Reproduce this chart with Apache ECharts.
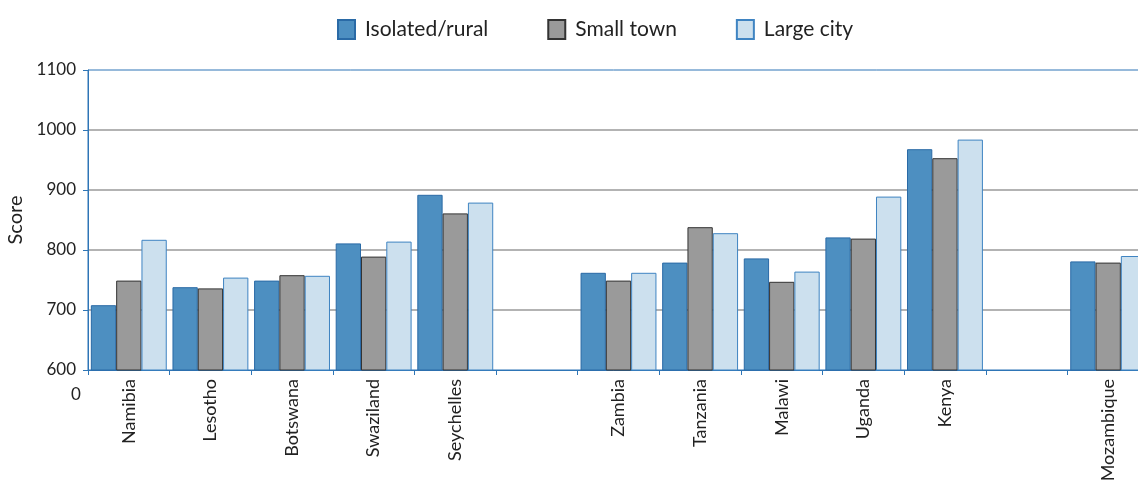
<!DOCTYPE html>
<html>
<head>
<meta charset="utf-8">
<script src="https://cdn.jsdelivr.net/npm/echarts@6/dist/echarts.min.js"></script>
<style>
  html, body { margin: 0; padding: 0; background: #fff; }
  #main { width: 1138px; height: 489px; }
</style>
</head>
<body>
<div id="main"></div>
<script>
// 国家（空字符串是分组之间的空位）
var countries = ['Namibia', 'Lesotho', 'Botswana', 'Swaziland', 'Seychelles', '',
    'Zambia', 'Tanzania', 'Malawi', 'Uganda', 'Kenya', '', 'Mozambique'];

// 三类地区的分数
var isolatedRural = [708, 738, 749, 811, 892, '-', 762, 779, 786, 821, 968, '-', 781];
var smallTown = [749, 736, 758, 789, 861, '-', 749, 838, 747, 819, 953, '-', 779];
var largeCity = [817, 754, 757, 814, 879, '-', 762, 828, 764, 889, 984, '-', 790];

var yTicks = [600, 700, 800, 900, 1000, 1100];

var fontName = 'Lato';
var axisBlue = '#2e75b6';

var chart = echarts.init(document.getElementById('main'));

var option = {
    animation: false,
    textStyle: { fontFamily: fontName },
    legend: {
        top: 14,
        left: 332,
        icon: 'rect',
        itemWidth: 17,
        itemHeight: 19,
        itemGap: 59,
        textStyle: {
            fontFamily: fontName,
            fontSize: 21,
            color: '#222',
            padding: [0, 0, 0, 5]
        },
        data: ['Isolated/rural', 'Small town', 'Large city']
    },
    grid: {
        left: 88,
        top: 70,
        bottom: 119,
        width: 1061,
        outerBoundsMode: 'none',
        containLabel: false,
        show: true,
        borderColor: axisBlue,
        borderWidth: 1
    },
    xAxis: {
        type: 'category',
        data: countries,
        axisLine: { lineStyle: { color: axisBlue, width: 1 } },
        axisTick: {
            show: true,
            alignWithLabel: false,
            length: 5,
            lineStyle: { color: axisBlue }
        },
        axisLabel: {
            rotate: 90,
            interval: 0,
            margin: 9,
            fontSize: 18,
            color: '#222',
            fontFamily: fontName
        }
    },
    yAxis: {
        type: 'value',
        min: yTicks[0],
        max: yTicks[yTicks.length - 1],
        interval: 100,
        name: 'Score',
        nameLocation: 'middle',
        nameGap: 60,
        nameTextStyle: { fontSize: 20, color: '#222', fontFamily: fontName },
        axisLine: { show: true, lineStyle: { color: axisBlue, width: 1 } },
        axisTick: { show: true, length: 5, lineStyle: { color: axisBlue } },
        axisLabel: {
            margin: 12,
            fontSize: 17,
            color: '#222',
            fontFamily: fontName,
            formatter: function (value) {
                return String(value);
            }
        },
        splitLine: {
            show: true,
            showMinLine: false,
            showMaxLine: false,
            lineStyle: { color: '#9a9a9a', width: 1.5 }
        }
    },
    graphic: [{
        type: 'text',
        left: 71,
        top: 386,
        style: { text: '0', fontSize: 17, fill: '#222', fontFamily: fontName }
    }],
    series: [{
        name: 'Isolated/rural',
        type: 'bar',
        barGap: '0%',
        barCategoryGap: '7%',
        itemStyle: { color: '#4d8fc1', borderColor: '#2a6aa6', borderWidth: 1 },
        data: isolatedRural
    }, {
        name: 'Small town',
        type: 'bar',
        barGap: '0%',
        barCategoryGap: '7%',
        itemStyle: { color: '#9a9a9a', borderColor: '#333333', borderWidth: 1 },
        data: smallTown
    }, {
        name: 'Large city',
        type: 'bar',
        barGap: '0%',
        barCategoryGap: '7%',
        itemStyle: { color: '#cce0ee', borderColor: '#3f84c2', borderWidth: 1 },
        data: largeCity
    }]
};

chart.setOption(option);
</script>
</body>
</html>
